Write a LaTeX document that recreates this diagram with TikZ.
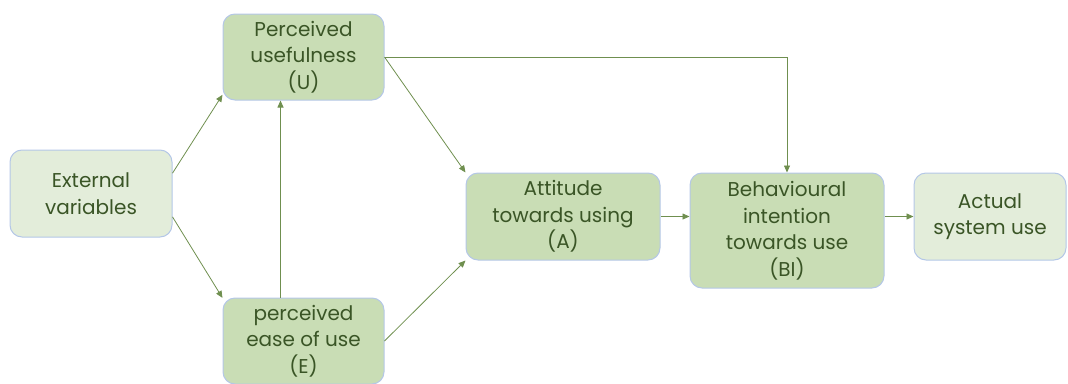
\documentclass[tikz,border=0pt]{standalone}
\usepackage{fontspec}
\setmainfont{Poppins}
\usepackage{xcolor}
\usetikzlibrary{positioning,arrows.meta}
\definecolor{boxline}{HTML}{B4C7E7}
\definecolor{darkfill}{HTML}{C9DDB5}
\definecolor{lightfill}{HTML}{E3EDDA}
\definecolor{txtgreen}{HTML}{3A5526}
\definecolor{arrgreen}{HTML}{6F8F4F}

\begin{document}
\begin{tikzpicture}[
    x=1pt,y=-1pt,
    box/.style={draw=boxline,line width=1pt,rounded corners=12pt,align=center,
      fill=darkfill,text=txtgreen,inner sep=2pt,
      font=\fontsize{20}{26.5}\selectfont},
    pale/.style={box,fill=lightfill},
    arr/.style={draw=arrgreen,line width=0.8pt,-{Triangle[length=7pt,width=6pt]}}
  ]
    \useasboundingbox (0,0) rectangle (1068,383);
    \node[pale,minimum width=162pt,minimum height=87pt] (ext) at (91,193.5) {External\\variables};
    \node[box,minimum width=161pt,minimum height=86pt] (u) at (303.5,57) {Perceived\\usefulness\\(U)};
    \node[box,minimum width=161pt,minimum height=86pt] (e) at (303.5,341) {perceived\\ease of use\\(E)};
    \node[box,minimum width=194pt,minimum height=87pt] (a) at (563,216.5) {Attitude\\towards using\\(A)};
    \node[box,minimum width=194pt,minimum height=115pt] (bi) at (787,230.5) {Behavioural\\intention\\towards use\\(BI)};
    \node[pale,minimum width=152pt,minimum height=87pt] (act) at (990,216.5) {Actual\\system use};
    \draw[arr] (ext.14) -- (u.205);
    \draw[arr] (ext.-16) -- (e.152);
    \draw[arr] ([xshift=-23pt]e.north) -- ([xshift=-23pt]u.south);
    \draw[arr] (u.east) -- (a.north west);
    \draw[arr] (e.east) -- (a.south west);
    \draw[arr] (u.east) -| (bi.north);
    \draw[arr] (a.east) -- (a.east -| bi.west);
    \draw[arr] (bi.east |- act.west) -- (act.west);
  \end{tikzpicture}
\end{document}
